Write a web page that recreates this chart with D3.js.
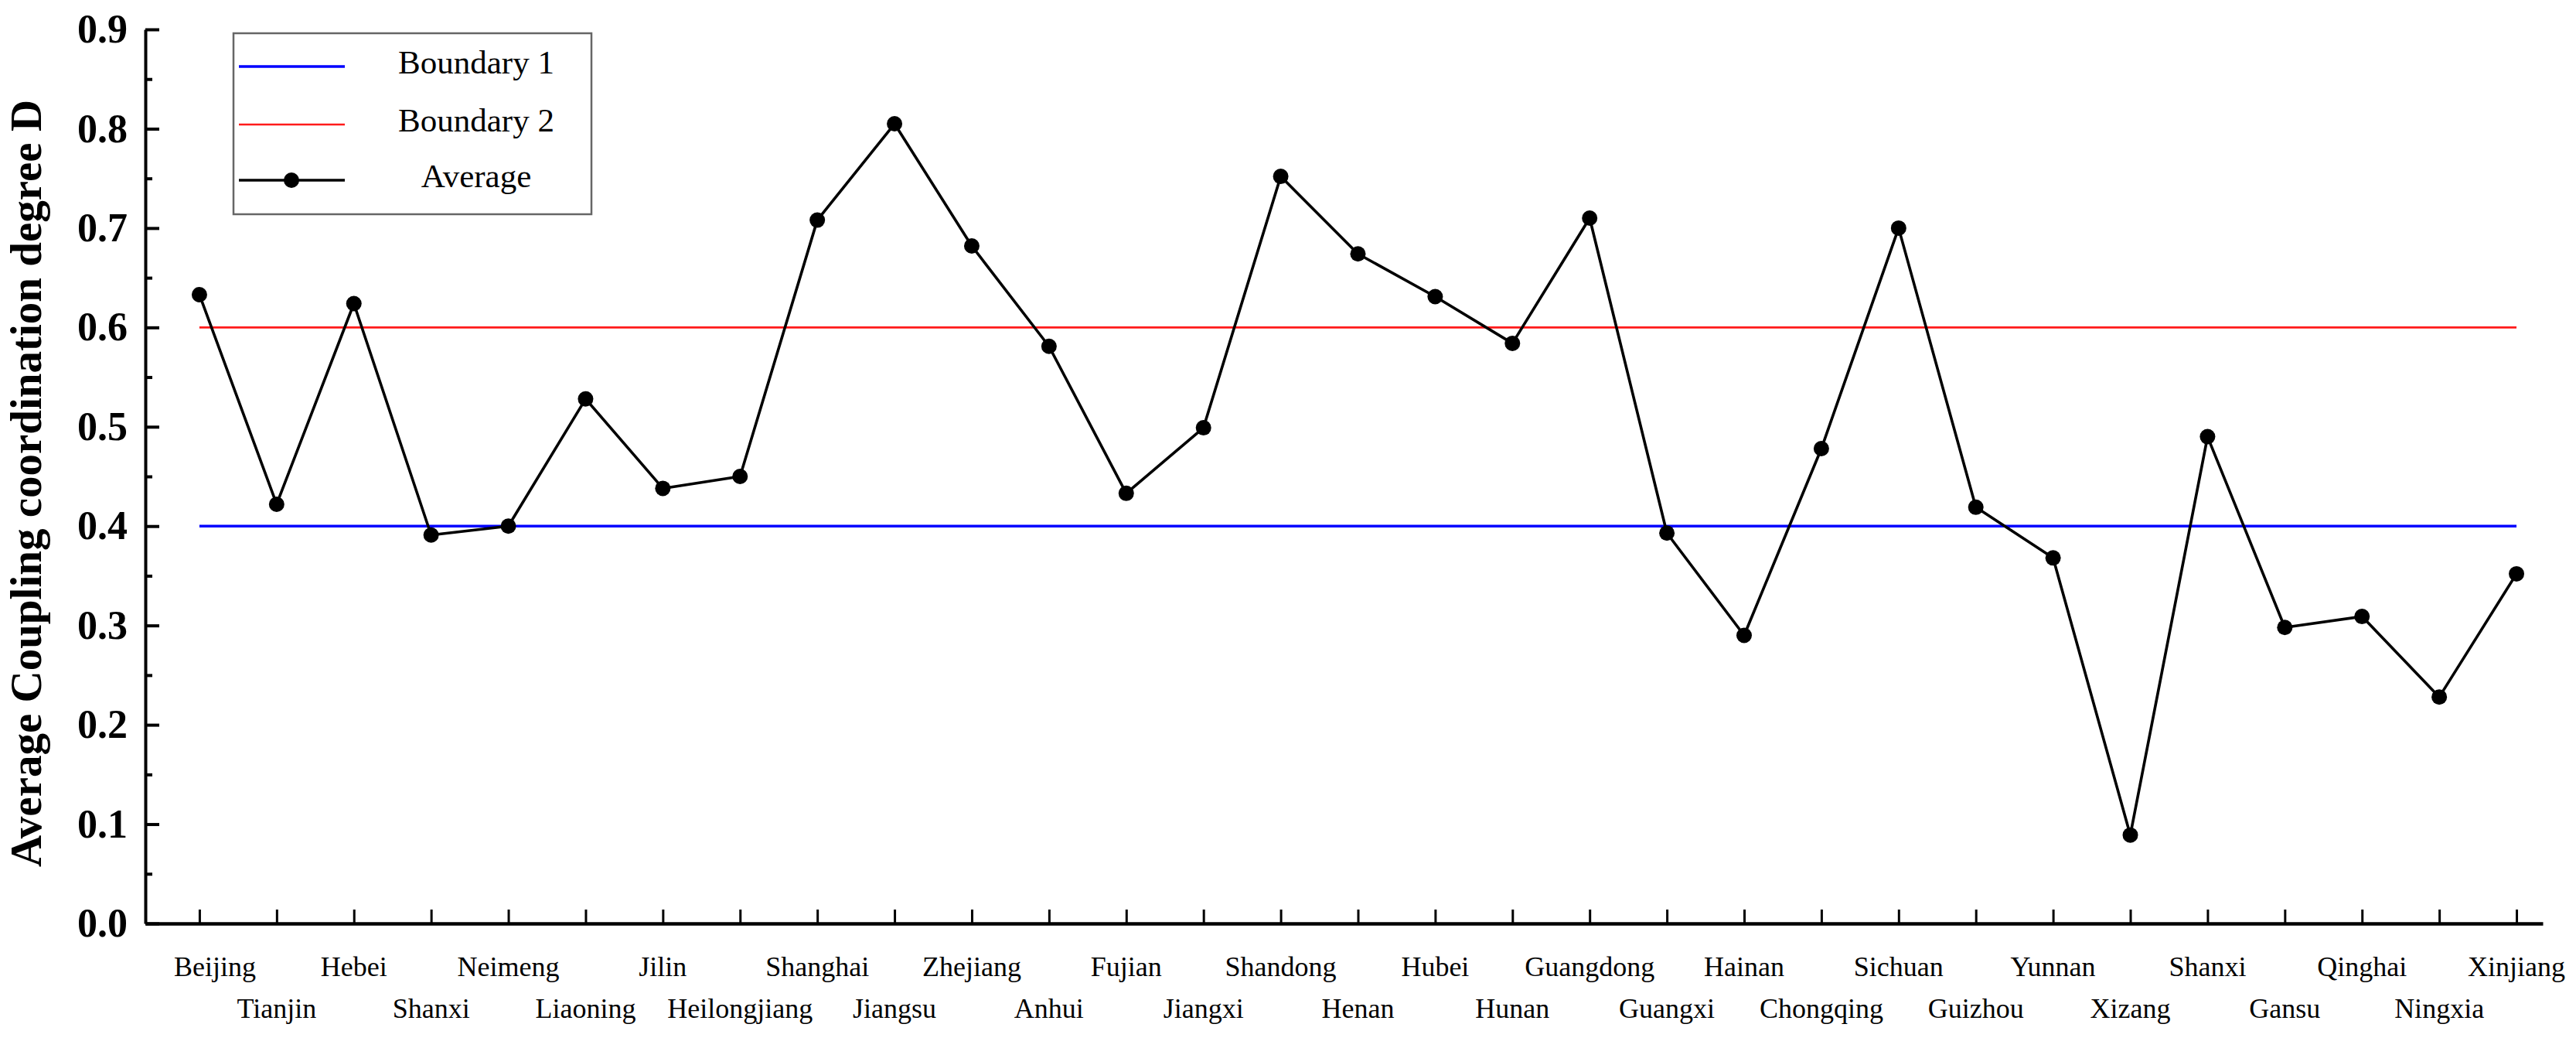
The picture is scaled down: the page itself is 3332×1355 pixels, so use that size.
<!DOCTYPE html>
<html>
<head>
<meta charset="utf-8">
<script src="https://cdn.jsdelivr.net/npm/d3@7"></script>
<style>
  html, body { margin: 0; padding: 0; background: #ffffff; }
  svg { display: block; }
</style>
</head>
<body>
<script>
// ---------- data ----------
const provinces = ["Beijing","Tianjin","Hebei","Shanxi","Neimeng","Liaoning","Jilin","Heilongjiang",
  "Shanghai","Jiangsu","Zhejiang","Anhui","Fujian","Jiangxi","Shandong","Henan","Hubei","Hunan",
  "Guangdong","Guangxi","Hainan","Chongqing","Sichuan","Guizhou","Yunnan","Xizang","Shanxi",
  "Gansu","Qinghai","Ningxia","Xinjiang"];
const averageValues = [0.633,0.422,0.624,0.391,0.400,0.528,0.438,0.450,
  0.708,0.805,0.682,0.581,0.433,0.499,0.752,0.674,0.631,0.584,
  0.710,0.393,0.290,0.478,0.700,0.419,0.368,0.089,0.490,
  0.298,0.309,0.228,0.352];
const boundary1 = 0.4;
const boundary2 = 0.6;
const yTickValues = [0.0,0.1,0.2,0.3,0.4,0.5,0.6,0.7,0.8,0.9];
const yMinorTickValues = [0.05,0.15,0.25,0.35,0.45,0.55,0.65,0.75,0.85];
const legendLabels = ["Boundary 1","Boundary 2","Average"];
const yTitle = "Average Coupling coordination degree D";

// ---------- layout ----------
const W = 3332, H = 1355;
const axisLeftX = 188, axisRightX = 3289, axisBottomY = 1194, axisTopY = 38;
const serif = "'Liberation Serif','Times New Roman',Times,serif";

const svg = d3.select("body").append("svg")
  .attr("width", W).attr("height", H)
  .attr("viewBox", `0 0 ${W} ${H}`);
svg.append("rect").attr("width", W).attr("height", H).attr("fill", "#ffffff");

const x = d3.scaleLinear().domain([-0.7, 30.34]).range([axisLeftX, axisRightX]);
const y = d3.scaleLinear().domain([0, 0.9]).range([axisBottomY, axisTopY]);

// ---------- boundary lines ----------
const first = 0, last = provinces.length - 1;
svg.append("line")
  .attr("x1", x(first)).attr("x2", x(last))
  .attr("y1", y(boundary2)).attr("y2", y(boundary2))
  .attr("stroke", "#ff1a1a").attr("stroke-width", 2.6);
svg.append("line")
  .attr("x1", x(first)).attr("x2", x(last))
  .attr("y1", y(boundary1)).attr("y2", y(boundary1))
  .attr("stroke", "#0000ff").attr("stroke-width", 3.6);

// ---------- average line ----------
const pts = averageValues.map((v, i) => [i, v]);
svg.append("path")
  .datum(pts)
  .attr("fill", "none")
  .attr("stroke", "#000")
  .attr("stroke-width", 3.6)
  .attr("stroke-linejoin", "round")
  .attr("d", d3.line().x(d => x(d[0])).y(d => y(d[1])));
svg.append("g").selectAll("circle")
  .data(pts).join("circle")
  .attr("cx", d => x(d[0])).attr("cy", d => y(d[1]))
  .attr("r", 10).attr("fill", "#000");

// ---------- axes ----------
const yAxis = svg.append("g")
  .attr("transform", `translate(${axisLeftX},0)`)
  .call(d3.axisLeft(y).tickValues(yTickValues).tickSize(-18).tickSizeOuter(0)
    .tickPadding(23).tickFormat(d3.format(".1f")));
yAxis.select(".domain").attr("stroke", "#000").attr("stroke-width", 4);
yAxis.selectAll(".tick line").attr("stroke", "#000").attr("stroke-width", 4);
yAxis.selectAll(".tick text")
  .attr("font-family", serif).attr("font-weight", "bold")
  .attr("font-size", 52).attr("fill", "#000");

const yMinor = svg.append("g")
  .attr("transform", `translate(${axisLeftX},0)`)
  .call(d3.axisLeft(y).tickValues(yMinorTickValues).tickSize(-9).tickSizeOuter(0).tickFormat(""));
yMinor.select(".domain").remove();
yMinor.selectAll(".tick line").attr("stroke", "#000").attr("stroke-width", 4);

const xAxis = svg.append("g")
  .attr("transform", `translate(0,${axisBottomY})`)
  .call(d3.axisBottom(x).tickValues(d3.range(provinces.length)).tickSize(-18)
    .tickSizeOuter(0).tickFormat(""));
xAxis.select(".domain").attr("stroke", "#000").attr("stroke-width", 4.5);
xAxis.selectAll(".tick line").attr("stroke", "#000").attr("stroke-width", 3);

// x labels, staggered in two rows
svg.append("g").selectAll("text")
  .data(provinces).join("text")
  .attr("x", (d, i) => x(i) + (i === 0 ? 20 : 0))
  .attr("y", (d, i) => i % 2 === 0 ? 1262 : 1316)
  .attr("text-anchor", "middle")
  .attr("font-family", serif)
  .attr("font-size", 36)
  .attr("fill", "#000")
  .text(d => d);

// y title
svg.append("text")
  .attr("transform", `translate(53,625) rotate(-90)`)
  .attr("text-anchor", "middle")
  .attr("font-family", serif)
  .attr("font-weight", "bold")
  .attr("font-size", 57)
  .attr("fill", "#000")
  .text(yTitle);

// ---------- legend ----------
const lg = svg.append("g");
lg.append("rect")
  .attr("x", 302).attr("y", 43).attr("width", 463).attr("height", 234)
  .attr("fill", "#fff").attr("stroke", "#666").attr("stroke-width", 2.5);
const rowY = [86, 161, 233];
const legendStyles = [
  {stroke: "#0000ff", width: 3.6, marker: false},
  {stroke: "#ff1a1a", width: 2.6, marker: false},
  {stroke: "#000", width: 3.6, marker: true}
];
legendLabels.forEach((lab, i) => {
  const s = legendStyles[i];
  lg.append("line")
    .attr("x1", 309).attr("x2", 446).attr("y1", rowY[i]).attr("y2", rowY[i])
    .attr("stroke", s.stroke).attr("stroke-width", s.width);
  if (s.marker) {
    lg.append("circle").attr("cx", 377).attr("cy", rowY[i]).attr("r", 10).attr("fill", "#000");
  }
  lg.append("text")
    .attr("x", 616).attr("y", rowY[i] + 9)
    .attr("text-anchor", "middle")
    .attr("font-family", serif)
    .attr("font-size", 43)
    .attr("fill", "#000")
    .text(lab);
});
</script>
</body>
</html>
